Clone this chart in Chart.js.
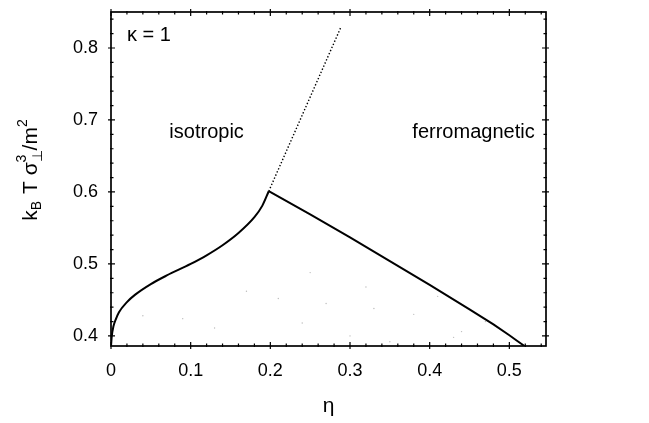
<!DOCTYPE html>
<html>
<head>
<meta charset="utf-8">
<script src="https://cdn.jsdelivr.net/npm/chart.js@4.4.1/dist/chart.umd.min.js"></script>
<style>
  html, body { margin: 0; padding: 0; background: #fff; }
  #wrap { width: 649px; height: 423px; position: relative; }
</style>
</head>
<body>
<div id="wrap"><canvas id="c" width="649" height="423"></canvas></div>
<script>
// ---- data ----
const etaLeft = [0.0, 0.001, 0.003, 0.006, 0.01, 0.02, 0.03, 0.05, 0.07, 0.10, 0.12, 0.14, 0.16, 0.18, 0.19, 0.198];
const tLeft   = [0.386, 0.400, 0.413, 0.423, 0.433, 0.447, 0.457, 0.472, 0.484, 0.500, 0.512, 0.526, 0.543, 0.565, 0.581, 0.601];
const etaRight = [0.198, 0.25, 0.30, 0.35, 0.40, 0.45, 0.48, 0.50, 0.51, 0.519];
const tRight   = [0.601, 0.569, 0.537, 0.504, 0.471, 0.437, 0.416, 0.401, 0.393, 0.386];
const etaDot = [0.198, 0.289];
const tDot   = [0.601, 0.830];
// faint speckles under the coexistence curve
const etaSpeck = [0.04, 0.09, 0.13, 0.17, 0.21, 0.24, 0.27, 0.30, 0.32, 0.35, 0.38, 0.41, 0.44, 0.47, 0.25, 0.33, 0.43];
const tSpeck   = [0.428, 0.424, 0.411, 0.462, 0.452, 0.418, 0.445, 0.400, 0.468, 0.392, 0.430, 0.455, 0.406, 0.420, 0.488, 0.438, 0.398];
const xTickValues = [0, 0.1, 0.2, 0.3, 0.4, 0.5];
const yTickValues = [0.4, 0.5, 0.6, 0.7, 0.8];
const xRange = [0, 0.546];
const yRange = [0.386, 0.85];
const annotations = [
  { text: 'κ = 1', eta: 0.02, t: 0.818, align: 'left' },
  { text: 'isotropic', eta: 0.12, t: 0.682, align: 'center' },
  { text: 'ferromagnetic', eta: 0.455, t: 0.682, align: 'center' }
];

const toPts = (xs, ys) => xs.map((x, i) => ({ x: x, y: ys[i] }));
const FONT = "'Liberation Sans', Arial, sans-serif";

const framePlugin = {
  id: 'frame',
  afterDatasetsDraw(chart) {
    const { ctx, chartArea: a, scales: { x, y } } = chart;
    ctx.save();
    ctx.strokeStyle = '#000';
    ctx.lineWidth = 1.7;
    ctx.strokeRect(a.left, a.top, a.right - a.left, a.bottom - a.top);
    ctx.lineWidth = 1.2;
    for (let i = 0; i * 0.02 <= xRange[1] + 1e-9; i++) {
      const v = i * 0.02;
      const px = x.getPixelForValue(v);
      const major = (i % 5 === 0);
      const h = major ? 4 : 2.5;
      ctx.beginPath();
      ctx.moveTo(px, a.bottom - h); ctx.lineTo(px, a.bottom + (major ? 3 : 1));
      ctx.moveTo(px, a.top - (major ? 3 : 1)); ctx.lineTo(px, a.top + h);
      ctx.stroke();
    }
    for (let i = 0; 0.4 + i * 0.02 <= yRange[1] + 1e-9; i++) {
      const v = 0.4 + i * 0.02;
      const py = y.getPixelForValue(v);
      const major = (i % 5 === 0);
      const w = major ? 4 : 2.5;
      ctx.beginPath();
      ctx.moveTo(a.left - (major ? 3 : 1), py); ctx.lineTo(a.left + w, py);
      ctx.moveTo(a.right - w, py); ctx.lineTo(a.right + (major ? 3 : 1), py);
      ctx.stroke();
    }
    ctx.fillStyle = '#000';
    ctx.font = '20px ' + FONT;
    ctx.textBaseline = 'middle';
    annotations.forEach(an => {
      ctx.textAlign = an.align;
      ctx.fillText(an.text, x.getPixelForValue(an.eta), y.getPixelForValue(an.t));
    });
    // y-axis title with sub/superscripts
    ctx.translate(30, 170);
    ctx.rotate(-Math.PI / 2);
    ctx.textAlign = 'left';
    ctx.textBaseline = 'alphabetic';
    const big = '21px ' + FONT, small = '14px ' + FONT;
    const parts = [
      { t: 'k', f: big, dy: 0 },
      { t: 'B', f: small, dy: 4 },
      { t: ' T σ', f: big, dy: 0 },
      { t: '⊥', f: small, dy: 5, stack: '3' },
      { t: '/m', f: big, dy: 0 },
      { t: '2', f: small, dy: -10 }
    ];
    let total = 0;
    parts.forEach(p => { ctx.font = p.f; p.w = ctx.measureText(p.t).width; total += p.w + (p.t === 'B' ? 1 : 0); });
    let cx = -total / 2;
    const base = 7;
    parts.forEach(p => {
      ctx.font = p.f;
      ctx.fillText(p.t, cx, base + p.dy);
      if (p.stack) ctx.fillText(p.stack, cx, base - 11);
      cx += p.w + (p.t === 'B' ? 1 : 0);
    });
    ctx.restore();
  }
};

new Chart(document.getElementById('c'), {
  type: 'scatter',
  data: {
    datasets: [
      { data: toPts(etaSpeck, tSpeck), showLine: false, pointRadius: 0.7, pointBackgroundColor: '#bbb', pointBorderWidth: 0 },
      { data: toPts(etaLeft, tLeft), showLine: true, borderColor: '#000', borderWidth: 2, pointRadius: 0, tension: 0.3, cubicInterpolationMode: 'monotone' },
      { data: toPts(etaRight, tRight), showLine: true, borderColor: '#000', borderWidth: 2, pointRadius: 0, tension: 0 },
      { data: toPts(etaDot, tDot), showLine: true, borderColor: '#000', borderWidth: 1.4, borderDash: [1.4, 2], pointRadius: 0, tension: 0 }
    ]
  },
  options: {
    responsive: false,
    animation: false,
    layout: { padding: { left: 0, right: 103, top: 12, bottom: 0 } },
    plugins: { legend: { display: false }, tooltip: { enabled: false } },
    scales: {
      x: {
        type: 'linear', min: xRange[0], max: xRange[1],
        afterBuildTicks: s => { s.ticks = xTickValues.map(v => ({ value: v })); },
        afterFit: s => { s.height = 77; s.paddingLeft = 0; s.paddingRight = 0; },
        grid: { display: false, drawTicks: false },
        border: { display: false },
        ticks: { padding: 14, color: '#000', font: { family: FONT, size: 18 }, callback: v => String(v) },
        title: { display: true, text: 'η', color: '#000', font: { family: FONT, size: 21 }, padding: { top: 0, bottom: 4 } }
      },
      y: {
        type: 'linear', min: yRange[0], max: yRange[1],
        afterBuildTicks: s => { s.ticks = yTickValues.map(v => ({ value: v })); },
        afterFit: s => { s.width = 111; s.paddingTop = 0; s.paddingBottom = 0; },
        grid: { display: false, drawTicks: false },
        border: { display: false },
        ticks: { padding: 13, color: '#000', font: { family: FONT, size: 18 }, callback: v => v.toFixed(1) }
      }
    }
  },
  plugins: [framePlugin]
});
</script>
</body>
</html>
